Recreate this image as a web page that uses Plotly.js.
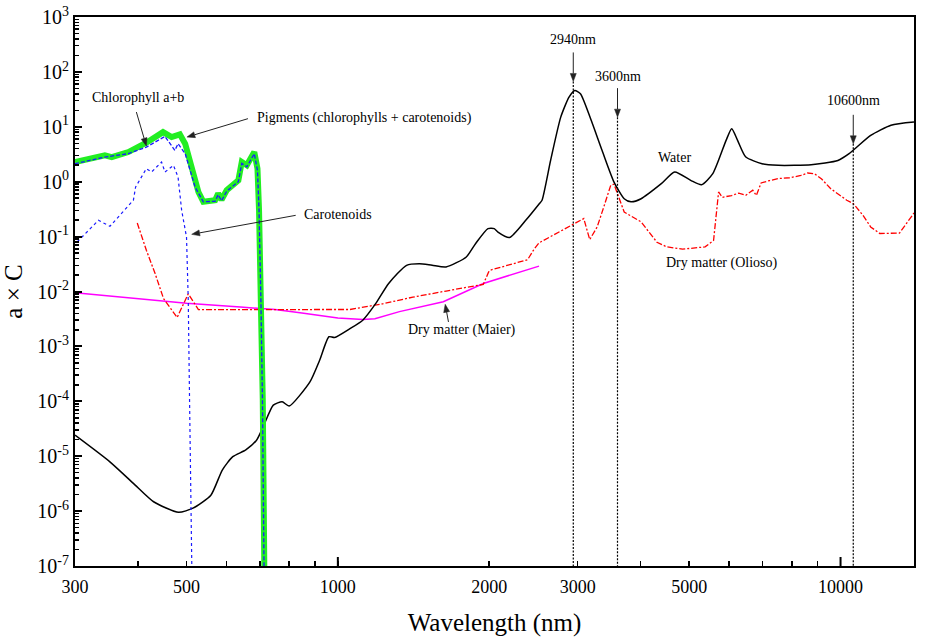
<!DOCTYPE html>
<html>
<head>
<meta charset="utf-8">
<script src="https://cdn.plot.ly/plotly-3.0.1.min.js"></script>
<style>html,body{margin:0;padding:0;background:#fff;}#chart{width:935px;height:638px;}</style>
</head>
<body>
<div id="chart"></div>
<script>
// ---------------- DATA ----------------
// Pigments (chlorophylls + carotenoids)
const pigWl  = [300, 344, 355, 383, 416, 449, 467, 485, 497, 516, 528, 540, 570, 578, 587, 601, 634, 644, 659, 682, 692, 697, 703, 709, 714, 718];
const pigVal = [2.28, 3.02, 2.81, 3.47, 5.14, 8.0, 6.5, 7.3, 4.9, 1.40, 0.65, 0.43, 0.46, 0.61, 0.47, 0.70, 1.06, 2.28, 1.99, 3.47, 1.73, 0.30, 0.0069, 1.05e-4, 1e-7, 1e-8];
// Chlorophyll a+b
const chlWl  = [300, 344, 383, 416, 453, 474, 481, 497, 520, 540, 570, 578, 587, 601, 634, 644, 659, 682, 692, 697, 703, 708, 713, 717];
const chlVal = [2.13, 2.81, 3.24, 4.27, 6.68, 3.72, 4.92, 3.24, 0.80, 0.43, 0.44, 0.58, 0.45, 0.67, 1.0, 2.15, 1.87, 3.24, 1.6, 0.30, 0.0069, 1.05e-4, 1e-7, 1e-8];
// Carotenoids
const carWl  = [303, 334, 352, 369, 392, 396, 416, 426, 446, 453, 471, 481, 489, 500, 504, 507, 509, 512, 514];
const carVal = [0.08, 0.198, 0.154, 0.244, 0.46, 0.80, 1.73, 1.5, 2.28, 1.5, 1.99, 1.21, 0.30, 0.098, 0.0069, 1.04e-4, 3.6e-6, 1e-7, 1e-8];
// Water
const waterWl  = [300, 352, 392, 430, 482, 515, 559, 589, 618, 656, 689, 710, 744, 775, 800, 880, 920, 960, 985, 1057, 1121, 1189, 1262, 1370, 1454, 1540, 1642, 1801, 1880, 1989, 2047, 2082, 2195, 2367, 2518, 2548, 2650, 2776, 2883, 2960, 3038, 3183, 3355, 3543, 3712, 3830, 4011, 4400, 4678, 5034, 5290, 5570, 5920, 6075, 6240, 6480, 6980, 7520, 8740, 9880, 10400, 11480, 12600, 14000];
const waterVal = [2.42e-5, 7.9e-6, 3.2e-6, 1.48e-6, 9.5e-7, 1.13e-6, 1.95e-6, 5.6e-6, 9.8e-6, 1.3e-5, 1.95e-5, 3.4e-5, 8.5e-5, 9.8e-5, 8.2e-5, 2.26e-4, 5.6e-4, 1.5e-3, 1.45e-3, 2.1e-3, 3.0e-3, 6.0e-3, 0.014, 0.030, 0.032, 0.030, 0.028, 0.0426, 0.075, 0.14, 0.14, 0.121, 0.096, 0.20, 0.40, 0.46, 2.45, 15, 34.7, 46, 40, 14, 3.7, 0.985, 0.49, 0.43, 0.49, 0.92, 1.5, 1.06, 0.88, 1.4, 5.66, 9.2, 5.66, 2.81, 2.13, 1.99, 2.04, 2.44, 3.24, 6.97, 10.7, 12.2];
// Dry matter (Olioso)
const olWl  = [399, 416, 433, 450, 479, 504, 528, 750, 1057, 1232, 1410, 1642, 1947, 1995, 2011, 2385, 2460, 2513, 2951, 3085, 3170, 3280, 3382, 3490, 3543, 3712, 4011, 4313, 4510, 4850, 5377, 5590, 5720, 5820, 6070, 6275, 6480, 6690, 6800, 6950, 7230, 7520, 7920, 8100, 8340, 8600, 8870, 9170, 9550, 10290, 10600, 11080, 11480, 11970, 13100, 13900, 14000];
const olVal = [0.177, 0.0564, 0.0212, 0.00745, 0.00336, 0.0091, 0.00468, 0.0047, 0.0047, 0.006, 0.0079, 0.0102, 0.0135, 0.0227, 0.0245, 0.038, 0.06, 0.077, 0.172, 0.213, 0.088, 0.15, 0.35, 0.86, 0.9, 0.28, 0.185, 0.079, 0.065, 0.059, 0.065, 0.085, 0.65, 0.52, 0.56, 0.62, 0.565, 0.70, 0.56, 0.95, 1.05, 1.14, 1.18, 1.22, 1.30, 1.44, 1.4, 1.12, 0.75, 0.46, 0.4, 0.245, 0.15, 0.114, 0.116, 0.245, 0.27];
// Dry matter (Maier)
const maWl  = [300, 500, 640, 750, 841, 1000, 1122, 1185, 1326, 1621, 1947, 2460, 2513];
const maVal = [0.0095, 0.0061, 0.0052, 0.0047, 0.0041, 0.0033, 0.0031, 0.0032, 0.0043, 0.0065, 0.014, 0.028, 0.029];
// Marked wavelengths
const markWl   = [2940, 3600, 10600];
const markTop  = [67, 15, 4.9];
const markText = ["2940nm", "3600nm", "10600nm"];
// Tick labels
const xTickVals = [300, 500, 1000, 2000, 3000, 5000, 10000, 14000];
const xTickText = ["300", "500", "1000", "2000", "3000", "5000", "10000", "14000"];
const xMinorVals = [400, 600, 700, 800, 900, 4000, 6000, 7000, 8000, 9000];
const xLongTicks = [1000, 10000];
const yExps = [-7, -6, -5, -4, -3, -2, -1, 0, 1, 2, 3];

// ---------------- BUILD ----------------
const FONT = 'Liberation Serif';
const yTickVals = yExps.map(e => Math.pow(10, e));
const yTickText = yExps.map(e => '10<sup>' + e + '</sup>');
const yMinor = [];
for (let e = -7; e < 3; e++) for (let m = 2; m <= 9; m++) yMinor.push(m * Math.pow(10, e));

const traces = [
  {x: maWl, y: maVal, mode: 'lines', name: 'Dry matter (Maier)', line: {color: '#ff00ff', width: 1.5}},
  {x: olWl, y: olVal, mode: 'lines', name: 'Dry matter (Olioso)', line: {color: '#ff0000', width: 1.3, dash: '6px,2px,2px,2px'}},
  {x: waterWl, y: waterVal, mode: 'lines', name: 'Water', line: {color: '#000000', width: 1.5, shape: 'spline', smoothing: 0.6}},
  {x: pigWl, y: pigVal, mode: 'lines', name: 'Pigments', line: {color: '#22ee22', width: 6}},
  {x: chlWl, y: chlVal, mode: 'lines', name: 'Chlorophyll a+b', line: {color: '#1a1aff', width: 1.3, dash: '4px,2px'}},
  {x: carWl, y: carVal, mode: 'lines', name: 'Carotenoids', line: {color: '#1a1aff', width: 1.2, dash: 'dot'}}
];
markWl.forEach((w, i) => {
  traces.push({x: [w, w], y: [markTop[i], 1e-7], mode: 'lines', name: markText[i],
    line: {color: '#000000', width: 1.2, dash: '2px,1.5px'}});
});

const L = Math.log10;
const annotations = [];
const shapes = [];
function txt(t, x, y, xanchor) {
  annotations.push({text: t, x: L(x), y: L(y), xref: 'x', yref: 'y', showarrow: false,
    xanchor: xanchor, yanchor: 'middle', font: {family: FONT, size: 14, color: '#000'}});
}
// arrow: tip at data (x,y); tail offset (dx right, dy down) in px. Shapes on log axes take data values.
function arr(x, y, dx, dy) {
  const len = Math.hypot(dx, dy);
  const ux = -dx / len, uy = -dy / len;
  const hl = 8, hw = 3;
  const bx = -ux * hl, by = -uy * hl;
  const px = -uy, py = ux;
  const P = (sx, sy) => sx.toFixed(2) + ',' + (-sy).toFixed(2);
  const common = {xref: 'x', yref: 'y', xsizemode: 'pixel', ysizemode: 'pixel', xanchor: x, yanchor: y};
  shapes.push(Object.assign({type: 'path', path: 'M' + P(dx, dy) + 'L' + P(bx, by),
    line: {color: '#222', width: 1}}, common));
  shapes.push(Object.assign({type: 'path', path: 'M0,0L' + P(bx + px * hw, by + py * hw) + 'L' + P(bx - px * hw, by - py * hw) + 'Z',
    line: {color: '#222', width: 0.5}, fillcolor: '#222'}, common));
}
txt('Chlorophyll a+b', 401, 34.7, 'center');
txt('Pigments (chlorophylls + carotenoids)', 684, 14.2, 'left');
txt('Carotenoids', 848, 0.255, 'left');
txt('Dry matter (Maier)', 1365, 0.00197, 'left');
txt('Dry matter (Olioso)', 4464, 0.0331, 'left');
txt('Water', 4303, 2.77, 'left');
txt(markText[0], markWl[0], 389, 'center');
txt(markText[1], markWl[1], 81.7, 'center');
txt(markText[2], markWl[2], 30.6, 'center');
arr(416, 4.46, -10, -34);
arr(501, 6.5, 61, -18.4);
arr(512, 0.11, 104, -19);
arr(1635, 0.00586, 3.3, 17.7);
markWl.forEach((w, i) => arr(w, markTop[i], 0, -29));
// longer ticks at 1000 and 10000
xLongTicks.forEach(w => shapes.push({type: 'line', xref: 'x', yref: 'paper', ysizemode: 'pixel', yanchor: 0,
  x0: w, x1: w, y0: 0, y1: 9, line: {color: '#000', width: 2}}));

const xRange = [L(300), L(14000)];
const layout = {
  width: 935, height: 638,
  margin: {l: 75, r: 21, t: 17, b: 72, pad: 0},
  paper_bgcolor: '#fff', plot_bgcolor: '#fff',
  showlegend: false,
  font: {family: FONT, color: '#000'},
  xaxis: {
    type: 'log', range: xRange, autorange: false,
    tickmode: 'array', tickvals: xTickVals, ticktext: xTickText,
    ticks: 'inside', ticklen: 5, tickwidth: 1.5, tickcolor: '#000', ticklabelstandoff: 3,
    minor: {tickmode: 'array', tickvals: xMinorVals, ticks: 'inside', ticklen: 5, tickwidth: 1.5, tickcolor: '#000', showgrid: false},
    showline: true, linewidth: 2, linecolor: '#000', mirror: true,
    showgrid: false, zeroline: false,
    tickfont: {family: FONT, size: 18, color: '#000'},
    title: {text: 'Wavelength (nm)', font: {family: FONT, size: 25, color: '#000'}, standoff: 18}
  },
  yaxis: {
    type: 'log', range: [-7, 3], autorange: false,
    tickmode: 'array', tickvals: yTickVals, ticktext: yTickText,
    ticks: 'inside', ticklen: 7, tickwidth: 2, tickcolor: '#000',
    minor: {tickmode: 'array', tickvals: yMinor, ticks: 'inside', ticklen: 4, tickwidth: 1.5, tickcolor: '#000', showgrid: false},
    showline: true, linewidth: 2, linecolor: '#000', mirror: true,
    showgrid: false, zeroline: false,
    tickfont: {family: FONT, size: 20, color: '#000'},
    title: {text: 'a × C', font: {family: FONT, size: 25, color: '#000'}, standoff: 8}
  },
  annotations: annotations,
  shapes: shapes
};
Plotly.newPlot('chart', traces, layout, {displayModeBar: false, staticPlot: true});
</script>
</body>
</html>
